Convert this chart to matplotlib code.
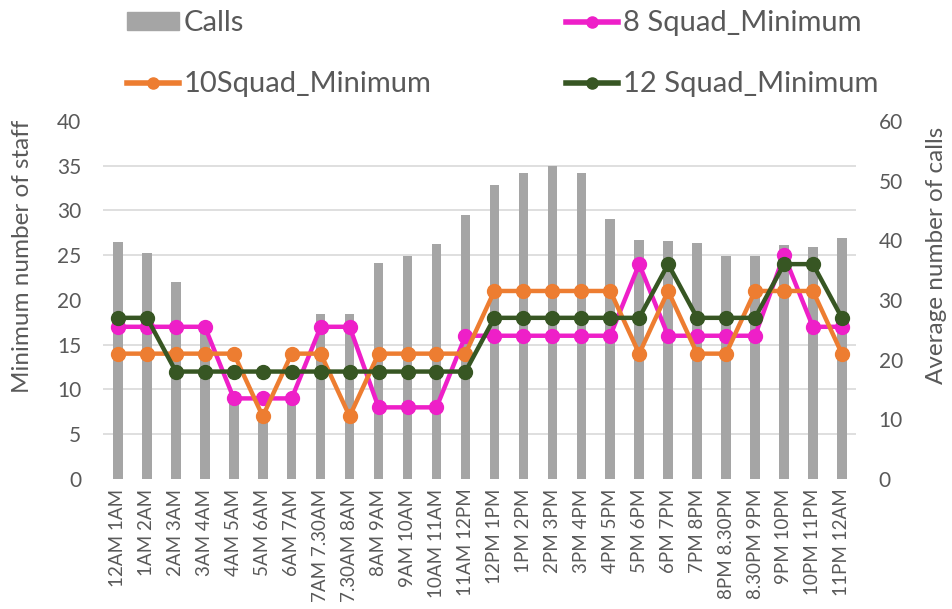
import numpy as np
import matplotlib.pyplot as plt
from matplotlib.ticker import FixedLocator
from matplotlib.lines import Line2D
from matplotlib.patches import Patch

slots = ["12AM 1AM", "1AM 2AM", "2AM 3AM", "3AM 4AM", "4AM 5AM", "5AM 6AM",
         "6AM 7AM", "7AM 7.30AM", "7.30AM 8AM", "8AM 9AM", "9AM 10AM",
         "10AM 11AM", "11AM 12PM", "12PM 1PM", "1PM 2PM", "2PM 3PM",
         "3PM 4PM", "4PM 5PM", "5PM 6PM", "6PM 7PM", "7PM 8PM",
         "8PM 8.30PM", "8.30PM 9PM", "9PM 10PM", "10PM 11PM", "11PM 12AM"]
calls = [39.7, 37.9, 33.0, 25, 14, 10, 13, 27.6, 27.6, 36.2, 37.3, 39.4,
         44.2, 49.2, 51.3, 52.5, 51.2, 43.5, 40.0, 39.9, 39.6, 37.4, 37.4,
         39.2, 38.8, 40.4]
squad8 = [17, 17, 17, 17, 9, 9, 9, 17, 17, 8, 8, 8, 16, 16, 16, 16, 16, 16,
          24, 16, 16, 16, 16, 25, 17, 17]
squad10 = [14, 14, 14, 14, 14, 7, 14, 14, 7, 14, 14, 14, 14, 21, 21, 21, 21,
           21, 14, 21, 14, 14, 21, 21, 21, 14]
squad12 = [18, 18, 12, 12, 12, 12, 12, 12, 12, 12, 12, 12, 12, 18, 18, 18,
           18, 18, 18, 24, 18, 18, 18, 24, 24, 18]

plt.rcParams["font.family"] = ["Lato", "DejaVu Sans"]
txt = "#595959"
c_bar, c8, c10, c12 = "#A5A5A5", "#EE1FC8", "#ED7D31", "#375623"

fig = plt.figure(figsize=(9.53, 6.09), dpi=100)
ax2 = fig.add_axes([0.1086, 0.2135, 0.790, 0.588])
ax = ax2.twinx()
ax.yaxis.set_label_position("left")
ax.yaxis.tick_left()
ax2.yaxis.set_label_position("right")
ax2.yaxis.tick_right()

x = np.arange(len(slots))
ax2.bar(x, calls, width=0.33, color=c_bar, zorder=2)
ax2.set_ylim(0, 60)
ax2.set_yticks(range(0, 61, 10))
ax2.yaxis.set_minor_locator(FixedLocator(np.arange(0, 60.1, 7.5)))
ax2.grid(which="minor", axis="y", color="#D9D9D9", linewidth=1.2, zorder=0)
ax2.tick_params(which="both", length=0)
ax2.set_ylabel("Average number of calls", fontsize=17.5, color=txt)
ax2.yaxis.set_label_coords(1.093, 0.624)

style = dict(linewidth=3.2, marker="o", markersize=10)
ax.plot(x, squad8, color=c8, **style)
ax.plot(x, squad10, color=c10, **style)
ax.plot(x, squad12, color=c12, **style)
ax.set_ylim(0, 40)
ax.set_yticks(range(0, 41, 5))
ax.set_ylabel("Minimum number of staff", fontsize=17.5, color=txt)
ax.yaxis.set_label_coords(-0.0936, 0.623)
ax.tick_params(length=0)

ax2.set_xlim(-0.5, len(slots) - 0.5)
ax2.set_xticks(x)
ax2.set_xticklabels(slots, rotation=90, fontsize=13.5, color=txt)
ax2.tick_params(axis="x", pad=7)
for a in (ax, ax2):
    for s in a.spines.values():
        s.set_visible(False)
    a.tick_params(axis="y", labelsize=15, labelcolor=txt, pad=16)

lw = dict(linewidth=4, marker="o", markersize=8)
handles = [Patch(color=c_bar), Line2D([], [], color=c10, **lw),
           Line2D([], [], color=c8, **lw), Line2D([], [], color=c12, **lw)]
fig.legend(handles,
           ["Calls", "10Squad_Minimum", "8 Squad_Minimum", "12 Squad_Minimum"],
           ncol=2, loc="upper left", bbox_to_anchor=(0.121, 1.002),
           borderaxespad=0, frameon=False, fontsize=21, labelcolor=txt,
           handlelength=1.8, handleheight=0.55, handletextpad=0.15,
           columnspacing=4.6, labelspacing=1.2)

fig.savefig("out.png", dpi=100)
